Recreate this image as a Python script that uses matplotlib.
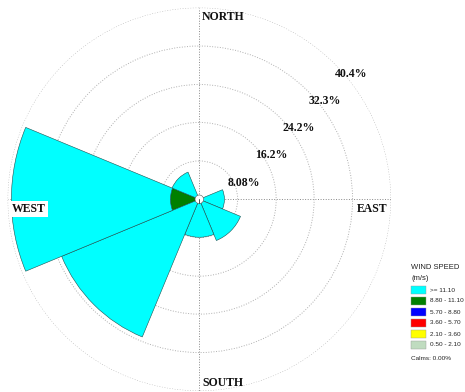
import numpy as np
import matplotlib

matplotlib.use('Agg')
import matplotlib.pyplot as plt
from matplotlib.patches import Rectangle

# compass directions (degrees clockwise from north)
directions = ['N', 'NE', 'E', 'SE', 'S', 'SW', 'W', 'NW']
dir_angles = [0, 45, 90, 135, 180, 225, 270, 315]

# wind speed classes (m/s), low to high
speed_bins = ['0.50 - 2.10', '2.10 - 3.60', '3.60 - 5.70', '5.70 - 8.80', '8.80 - 11.10', '>= 11.10']
speed_colors = ['#c0dcc0', '#ffff00', '#ff0000', '#0000ff', '#008000', '#00ffff']

# frequency (%) per direction for each speed class
freq_050_210 = [0, 0, 0, 0, 0, 0, 0, 0]
freq_210_360 = [0, 0, 0, 0, 0, 0, 0, 0]
freq_360_570 = [0, 0, 0, 0, 0, 0, 0, 0]
freq_570_880 = [0, 0, 0, 0, 0, 0, 0, 0]
freq_880_1110 = [0, 0, 0, 0, 0, 0, 6.1, 0]
freq_ge_1110 = [0, 0, 5.3, 9.4, 8.0, 31.4, 33.5, 6.2]

ring_values = [8.08, 16.2, 24.2, 32.3, 40.4]
calms = 0.00

W, H = 465, 392
fig = plt.figure(figsize=(W / 100, H / 100), dpi=100)

# polar axes: centre ~ (199, 199) px, outer ring radius ~ 191.7 px
cx, cy, R = 199.3, 199.3, 191.7
ax = fig.add_axes([(cx - R) / W, (H - cy - R) / H, 2 * R / W, 2 * R / H], projection='polar')
ax.set_theta_zero_location('N')
ax.set_theta_direction(-1)

theta = np.radians(dir_angles)
width = np.radians(45)
series = [freq_050_210, freq_210_360, freq_360_570, freq_570_880, freq_880_1110, freq_ge_1110]
bottom = np.zeros(len(directions))
for vals, col in zip(series, speed_colors):
    vals = np.array(vals, dtype=float)
    ax.bar(theta, vals, width=width, bottom=bottom, color=col,
           edgecolor='#1f4f4f', linewidth=0.4, zorder=2)
    bottom += vals

# small calm circle in the middle
ax.bar([0], [0.9], width=2 * np.pi, bottom=0, color='white', edgecolor='#555555',
       linewidth=0.4, zorder=3)

ax.set_ylim(0, ring_values[-1])
ax.set_yticks(ring_values)
ax.set_yticklabels([])
ax.set_xticks(np.radians([0, 90, 180, 270]))
ax.set_xticklabels([])
ax.grid(True, color='#b0b0b0', linestyle=':', linewidth=0.7)
ax.xaxis.grid(True, color='#888888', linestyle=':', linewidth=0.7)
ax.spines['polar'].set_visible(False)
ax.set_axisbelow(True)


def px(x, y):
    return x / W, 1 - y / H


serif = dict(family='Liberation Serif', fontweight='bold', fontsize=8.5, color='#111111')

# ring labels
ring_label_pos = [(244, 183), (271.5, 155.5), (298.5, 128), (325, 100.5), (351.5, 74)]
for (x, y), v in zip(ring_label_pos, ring_values):
    fig.text(*px(x, y), f'{v:g}%', ha='center', va='center', **serif)

fig.text(*px(202, 17.5), 'NORTH', ha='left', va='center', **serif)
fig.text(*px(357, 209), 'EAST', ha='left', va='center', **serif)
fig.text(*px(202, 383), 'SOUTH', ha='left', va='center', **serif)
fig.text(*px(28.5, 209), 'WEST', ha='center', va='center',
         bbox=dict(facecolor='white', edgecolor='none', pad=1.5), **serif)

# legend
sans = dict(family='Liberation Sans', color='#222222')
fig.text(*px(411, 267.5), 'WIND SPEED', ha='left', va='center', fontsize=5.5, **sans)
fig.text(*px(411, 278), '(m/s)', ha='left', va='center', fontsize=5.5, **sans)
y0 = 290
for i, (lab, col) in enumerate(zip(speed_bins[::-1], speed_colors[::-1])):
    y = y0 + i * 11
    fig.patches.append(Rectangle(px(411, y + 3.7), 14.5 / W, 7.4 / H, facecolor=col,
                                 edgecolor='#999999', linewidth=0.3,
                                 transform=fig.transFigure, figure=fig))
    fig.text(*px(430, y), lab, ha='left', va='center', fontsize=4.6, **sans)
fig.text(*px(411, 358), f'Calms: {calms:.2f}%', ha='left', va='center', fontsize=4.6, **sans)

fig.savefig('out.png', dpi=100)
